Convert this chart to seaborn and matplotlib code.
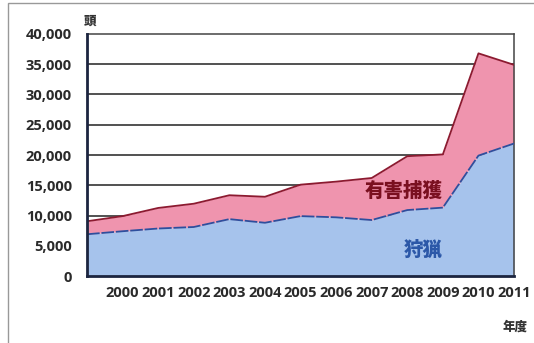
import matplotlib
matplotlib.use("Agg")
import matplotlib.pyplot as plt
import seaborn as sns
import pandas as pd
from matplotlib.patches import Rectangle

# Annual catch counts (head), fiscal years 1999-2011
years = [1999, 2000, 2001, 2002, 2003, 2004, 2005, 2006, 2007, 2008, 2009, 2010, 2011]
hunting = [6900, 7400, 7850, 8100, 9400, 8800, 9900, 9700, 9250, 10900, 11300, 19900, 21900]
nuisance = [2150, 2500, 3400, 3850, 3950, 4300, 5200, 5900, 6950, 8900, 8800, 16900, 13000]
tick_years = list(range(2000, 2012))
y_ticks = [0, 5000, 10000, 15000, 20000, 25000, 30000, 35000, 40000]

df = pd.DataFrame({"year": years, "hunting": hunting, "nuisance": nuisance})
df["total"] = df["hunting"] + df["nuisance"]

sns.set_style("white")
plt.rcParams["font.family"] = ["Noto Sans CJK JP", "DejaVu Sans"]

fig = plt.figure(figsize=(5.34, 3.43), dpi=100)
ax = fig.add_axes([0.163, 0.1953, 0.7996, 0.7056])

blue_fill = "#a6c3ec"
blue_edge = "#2d4f9e"
pink_fill = "#ef94ae"
red_edge = "#8c1a30"

# stacked areas
ax.fill_between(df["year"], 0, df["hunting"], color=blue_fill, lw=0, zorder=2)
ax.fill_between(df["year"], df["hunting"], df["total"], color=pink_fill, lw=0, zorder=2)
sns.lineplot(data=df, x="year", y="total", ax=ax, color=red_edge, lw=1.3, zorder=3)
sns.lineplot(data=df, x="year", y="hunting", ax=ax, color=blue_edge, lw=1.3,
             zorder=3, dashes=False)
ax.lines[-1].set_dashes((7, 1))

ax.set_xlim(1999, 2011)
ax.set_ylim(0, 40000)
ax.set_yticks(y_ticks)
ax.set_yticklabels([f"{v:,}" for v in y_ticks])
ax.set_xticks(tick_years)
ax.set_xticklabels([str(y) for y in tick_years])
ax.set_xlabel("")
ax.set_ylabel("")

# horizontal grid lines
for v in y_ticks[1:-1]:
    ax.axhline(v, color="#222222", lw=1.1, zorder=1)

for side in ["top", "right"]:
    ax.spines[side].set_color("#444444")
    ax.spines[side].set_linewidth(1.1)
for side in ["left", "bottom"]:
    ax.spines[side].set_color("#1c2540")
    ax.spines[side].set_linewidth(2.0)
    ax.spines[side].set_zorder(4)

ax.tick_params(axis="x", direction="in", length=4, width=1.2, color="#1c2540",
               labelsize=10.5, labelcolor="#2a2a2a", pad=7)
ax.tick_params(axis="y", length=0, labelsize=10.5, labelcolor="#2a2a2a", pad=11)
for lab in ax.get_xticklabels() + ax.get_yticklabels():
    lab.set_fontweight("bold")
    lab.set_family(["Open Sans", "DejaVu Sans"])

# series labels inside the areas
ax.text(2007.9, 14050, "有害捕獲", color="#7a1020", fontsize=14, fontweight="black",
        ha="center", va="center", zorder=5)
ax.text(2008.45, 4300, "狩猟", color="#2c58a8", fontsize=14, fontweight="black",
        ha="center", va="center", zorder=5)

# unit labels
fig.text(90 / 534, 1 - 21 / 343, "頭", fontsize=9, fontweight="black", color="#333333",
         ha="center", va="center")
fig.text(515 / 534, 1 - 326 / 343, "年度", fontsize=9, fontweight="black", color="#333333",
         ha="center", va="center")

# outer frame
fig.patches.append(Rectangle((8 / 534, -0.1), 1.2, 1 - 3 / 343 + 0.1,
                             transform=fig.transFigure, fill=False,
                             edgecolor="#999999", lw=1.0))

fig.savefig("out.png", dpi=100)
